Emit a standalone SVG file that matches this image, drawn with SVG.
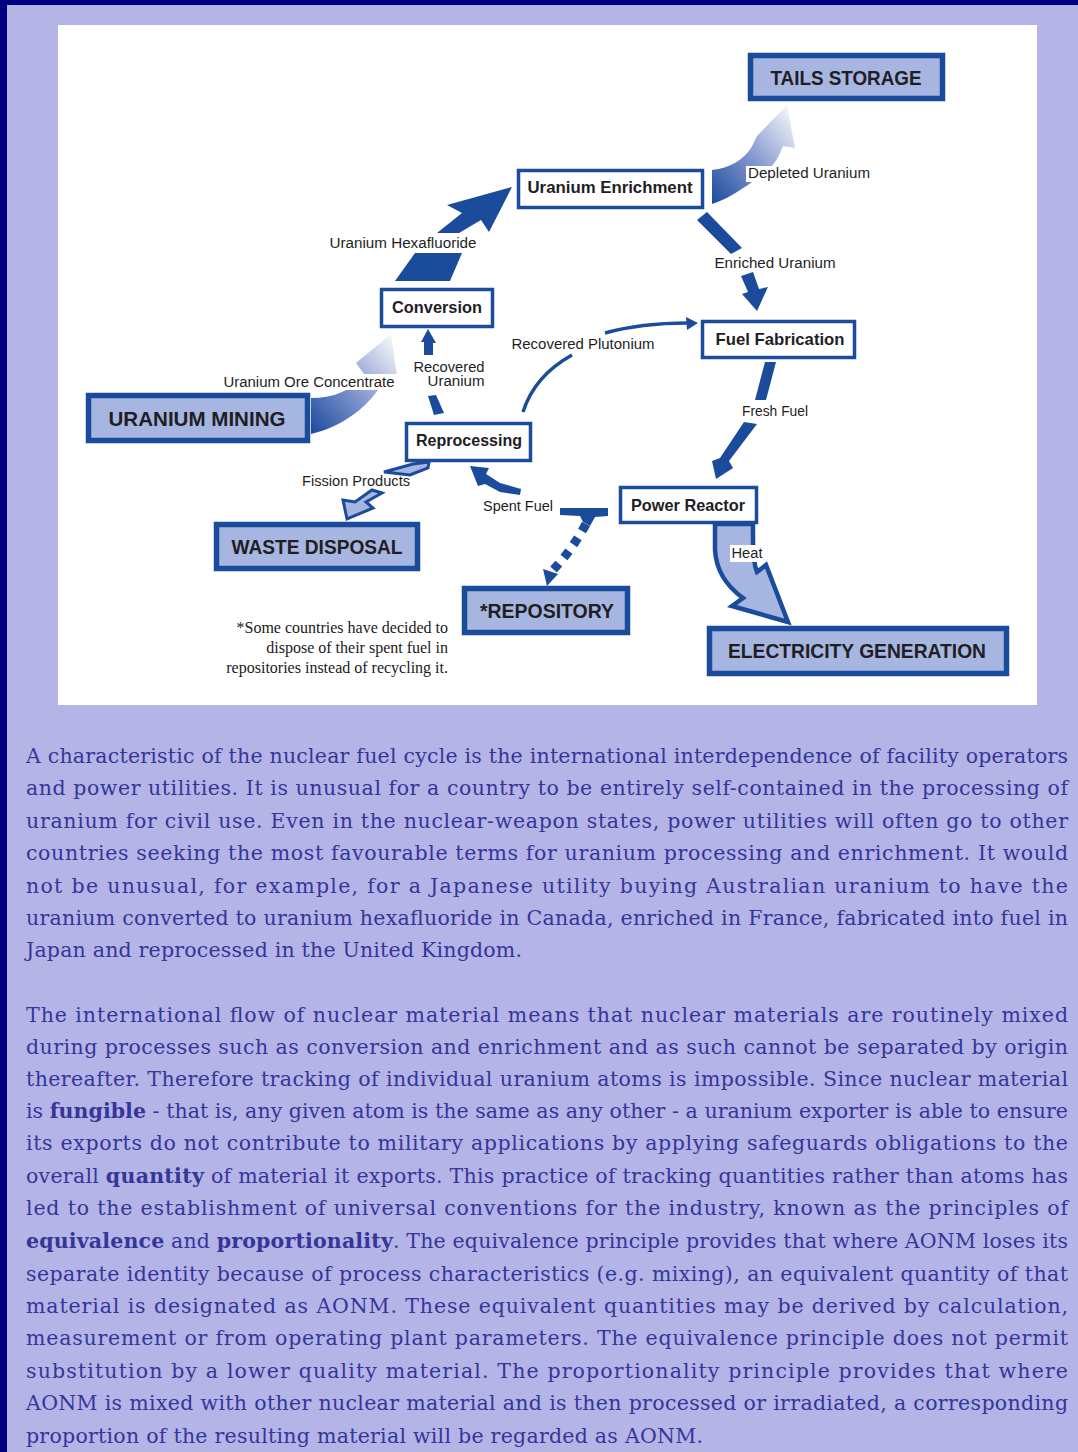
<svg xmlns="http://www.w3.org/2000/svg" width="1078" height="1452" viewBox="0 0 1078 1452">
<defs>
<style>
.big rect{fill:#a6b6e0;stroke:#1b4b9b;stroke-width:5.5}
.sm rect{fill:#ffffff;stroke:#1b4b9b;stroke-width:3.5}
.bt{font-family:"Liberation Sans",Arial,sans-serif;font-weight:bold;font-size:21px;fill:#1e1e24;text-anchor:middle}
.st{font-family:"Liberation Sans",Arial,sans-serif;font-weight:bold;font-size:16.5px;fill:#1e1e24;text-anchor:middle}
.lb{font-family:"Liberation Sans",Arial,sans-serif;font-size:14px;fill:#1e1e24;text-anchor:middle}
.lbg{fill:#ffffff}
.sol{fill:#1b4b9b}
.lt{fill:#a6b6e0;stroke:#1b4b9b;stroke-width:3;stroke-linejoin:miter}
.fn{font-family:"Liberation Serif","Times New Roman",serif;font-size:16px;fill:#1a1a1a;text-anchor:end}
.b{font-family:"DejaVu Serif","Liberation Serif",serif;font-size:20.5px;fill:#35359a}
.b tspan.k{font-weight:bold}
</style>
<linearGradient id="gOre" x1="0" y1="1" x2="1" y2="0">
<stop offset="0" stop-color="#1a4a9c"/>
<stop offset="0.45" stop-color="#7f93cc"/>
<stop offset="1" stop-color="#ffffff"/>
</linearGradient>
<linearGradient id="gDep" x1="0" y1="1" x2="1" y2="0">
<stop offset="0" stop-color="#1a4a9c"/>
<stop offset="0.45" stop-color="#7f93cc"/>
<stop offset="1" stop-color="#ffffff"/>
</linearGradient>
</defs>

<rect x="0" y="0" width="1078" height="1452" fill="#b4b4e6"/>
<rect x="0" y="0" width="1078" height="5" fill="#000080"/>
<rect x="0" y="0" width="7" height="1452" fill="#000080"/>
<rect x="58" y="25" width="979" height="680" fill="#ffffff"/>

<g id="connectors">
  <path d="M311,398 C335,398 352,390 364,374 L356,363 L391,334 L397,376 L384,381 C370,405 345,426 311,434 Z" fill="url(#gOre)"/>
  <rect class="lbg" x="222" y="374" width="176" height="16"/>
  <text class="lb" x="309" y="387" textLength="171" lengthAdjust="spacingAndGlyphs">Uranium Ore Concentrate</text>

  <polygon class="sol" points="395,281 450,281 462,253 415,253"/>
  <polygon class="sol" points="437,233 459,233 481,220 489,232 512,187 447,205 462,213"/>
  <text class="lb" x="403" y="248" textLength="147" lengthAdjust="spacingAndGlyphs">Uranium Hexafluoride</text>

  <path d="M712,170 C730,168 743,160 751,148 L757,136 L787,105 L795,148 L783,146 C778,160 770,172 752,182 C738,192 725,200 712,204 Z" fill="url(#gDep)"/>
  <rect class="lbg" x="746" y="166" width="126" height="16"/>
  <text class="lb" x="809" y="178" textLength="122" lengthAdjust="spacingAndGlyphs">Depleted Uranium</text>

  <polygon class="sol" points="697,220 707,212 742,248 731,254"/>
  <polygon class="sol" points="741,276 753,272 759,289 768,287 757,311 742,294 748,292"/>
  <text class="lb" x="775" y="268" textLength="121" lengthAdjust="spacingAndGlyphs">Enriched Uranium</text>

  <polygon class="sol" points="765,362 776,362 766,400 755,400"/>
  <polygon class="sol" points="744,422 757,424 729,461 733,468 716,479 712,461 720,458"/>
  <text class="lb" x="775" y="416" textLength="66" lengthAdjust="spacingAndGlyphs">Fresh Fuel</text>

  <polygon class="sol" points="560,508 608,508 608,516 595,517 590,526 583,522 580,516 560,515"/>
  <polygon class="sol" points="521,489 500,483 486,474 489,468 470,466 478,486 485,484 500,492 520,495"/>
  <text class="lb" x="518" y="511" textLength="70" lengthAdjust="spacingAndGlyphs">Spent Fuel</text>

  <path d="M586,524 Q572,550 553,570" fill="none" stroke="#1b4b9b" stroke-width="9" stroke-dasharray="8 8"/>
  <polygon class="sol" points="543,569 558,574 547,586"/>

  <polygon class="lt" points="384,472 413,464 429,462 428,468 410,475"/>
  <polygon class="lt" points="372,490 382,493 366,502 373,508 347,519 343,500 355,502"/>
  <text class="lb" x="356" y="486" textLength="108" lengthAdjust="spacingAndGlyphs">Fission Products</text>

  <polygon class="sol" points="428,329 436,343 433,343 433,355 424,355 424,342 421,342"/>
  <polygon class="sol" points="428,396 436,395 444,413 434,415"/>
  <text class="lb" x="449" y="372" textLength="71" lengthAdjust="spacingAndGlyphs">Recovered</text>
  <text class="lb" x="456" y="386" textLength="57" lengthAdjust="spacingAndGlyphs">Uranium</text>

  <path d="M523,412 C530,390 545,370 572,355" fill="none" stroke="#1b4b9b" stroke-width="3.5"/>
  <path d="M605,333 C630,326 660,323 688,323" fill="none" stroke="#1b4b9b" stroke-width="3.5"/>
  <polygon class="sol" points="686,317 698,323 687,330"/>
  <text class="lb" x="583" y="349" textLength="143" lengthAdjust="spacingAndGlyphs">Recovered Plutonium</text>

  <path class="lt" style="stroke-width:4.5" d="M715,524 L715,550 C716,568 725,585 743,598 L732,606 L788,622 L766,565 L757,572 C753,562 753,550 753,540 L753,524 Z"/>
  <rect class="lbg" x="730" y="545" width="35" height="17"/>
  <text class="lb" x="747" y="558" textLength="31" lengthAdjust="spacingAndGlyphs">Heat</text>
</g>

<g id="tails-storage" class="big"><rect x="750.5" y="55.5" width="192" height="43"/><text class="bt" x="846" y="85" textLength="151" lengthAdjust="spacingAndGlyphs">TAILS STORAGE</text></g>
<g id="uranium-mining" class="big"><rect x="88.5" y="395.5" width="219" height="45"/><text class="bt" x="197" y="426" textLength="177" lengthAdjust="spacingAndGlyphs">URANIUM MINING</text></g>
<g id="waste-disposal" class="big"><rect x="216.5" y="524.5" width="201" height="44"/><text class="bt" x="317" y="554" textLength="171" lengthAdjust="spacingAndGlyphs">WASTE DISPOSAL</text></g>
<g id="repository" class="big"><rect x="464.5" y="588.5" width="163" height="44"/><text class="bt" x="547" y="618" textLength="134" lengthAdjust="spacingAndGlyphs">*REPOSITORY</text></g>
<g id="electricity-generation" class="big"><rect x="709.5" y="628.5" width="297" height="45"/><text class="bt" x="857" y="658" textLength="258" lengthAdjust="spacingAndGlyphs">ELECTRICITY GENERATION</text></g>

<g id="uranium-enrichment" class="sm"><rect x="518.5" y="170.5" width="184" height="37"/><text class="st" x="610" y="193" textLength="165" lengthAdjust="spacingAndGlyphs">Uranium Enrichment</text></g>
<g id="conversion" class="sm"><rect x="381.5" y="289.5" width="111" height="37"/><text class="st" x="437" y="313" textLength="90" lengthAdjust="spacingAndGlyphs">Conversion</text></g>
<g id="reprocessing" class="sm"><rect x="406.5" y="423.5" width="124" height="37"/><text class="st" x="469" y="446" textLength="106" lengthAdjust="spacingAndGlyphs">Reprocessing</text></g>
<g id="fuel-fabrication" class="sm"><rect x="702.5" y="321.5" width="152" height="36"/><text class="st" x="780" y="345" textLength="129" lengthAdjust="spacingAndGlyphs">Fuel Fabrication</text></g>
<g id="power-reactor" class="sm"><rect x="620.5" y="487.5" width="136" height="35"/><text class="st" x="688" y="511" textLength="114" lengthAdjust="spacingAndGlyphs">Power Reactor</text></g>

<g id="footnote">
<text class="fn" x="448" y="633">*Some countries have decided to</text>
<text class="fn" x="448" y="653">dispose of their spent fuel in</text>
<text class="fn" x="448" y="673">repositories instead of recycling it.</text>
</g>

<g id="body">
<text class="b" x="26" y="763" textLength="1042" lengthAdjust="spacing">A characteristic of the nuclear fuel cycle is the international interdependence of facility operators</text>
<text class="b" x="26" y="795" textLength="1042" lengthAdjust="spacing">and power utilities.  It is unusual for a country to be entirely self-contained in the processing of</text>
<text class="b" x="26" y="828" textLength="1042" lengthAdjust="spacing">uranium for civil use.  Even in the nuclear-weapon states, power utilities will often go to other</text>
<text class="b" x="26" y="860" textLength="1042" lengthAdjust="spacing">countries seeking the most favourable terms for uranium processing and enrichment.  It would</text>
<text class="b" x="26" y="893" textLength="1042" lengthAdjust="spacing">not be unusual, for example, for a Japanese utility buying Australian uranium to have the</text>
<text class="b" x="26" y="925" textLength="1042" lengthAdjust="spacing">uranium converted to uranium hexafluoride in Canada, enriched in France, fabricated into fuel in</text>
<text class="b" x="26" y="957" textLength="496" lengthAdjust="spacing">Japan and reprocessed in the United Kingdom.</text>

<text class="b" x="26" y="1022" textLength="1042" lengthAdjust="spacing">The international flow of nuclear material means that nuclear materials are routinely mixed</text>
<text class="b" x="26" y="1054" textLength="1042" lengthAdjust="spacing">during processes such as conversion and enrichment and as such cannot be separated by origin</text>
<text class="b" x="26" y="1086" textLength="1042" lengthAdjust="spacing">thereafter.  Therefore tracking of individual uranium atoms is impossible.  Since nuclear material</text>
<text class="b" x="26" y="1118" textLength="1042" lengthAdjust="spacing">is <tspan class="k">fungible</tspan> - that is, any given atom is the same as any other - a uranium exporter is able to ensure</text>
<text class="b" x="26" y="1150" textLength="1042" lengthAdjust="spacing">its exports do not contribute to military applications by applying safeguards obligations to the</text>
<text class="b" x="26" y="1183" textLength="1042" lengthAdjust="spacing">overall <tspan class="k">quantity</tspan> of material it exports.  This practice of tracking quantities rather than atoms has</text>
<text class="b" x="26" y="1215" textLength="1042" lengthAdjust="spacing">led to the establishment of universal conventions for the industry, known as the principles of</text>
<text class="b" x="26" y="1248" textLength="1042" lengthAdjust="spacing"><tspan class="k">equivalence</tspan> and <tspan class="k">proportionality</tspan>.  The equivalence principle provides that where AONM loses its</text>
<text class="b" x="26" y="1281" textLength="1042" lengthAdjust="spacing">separate identity because of process characteristics (e.g. mixing), an equivalent quantity of that</text>
<text class="b" x="26" y="1313" textLength="1042" lengthAdjust="spacing">material is designated as AONM.  These equivalent quantities may be derived by calculation,</text>
<text class="b" x="26" y="1345" textLength="1042" lengthAdjust="spacing">measurement or from operating plant parameters.  The equivalence principle does not permit</text>
<text class="b" x="26" y="1378" textLength="1042" lengthAdjust="spacing">substitution by a lower quality material.  The proportionality principle provides that where</text>
<text class="b" x="26" y="1410" textLength="1042" lengthAdjust="spacing">AONM is mixed with other nuclear material and is then processed or irradiated, a corresponding</text>
<text class="b" x="26" y="1443" textLength="677" lengthAdjust="spacing">proportion of the resulting material will be regarded as AONM.</text>
</g>
</svg>
